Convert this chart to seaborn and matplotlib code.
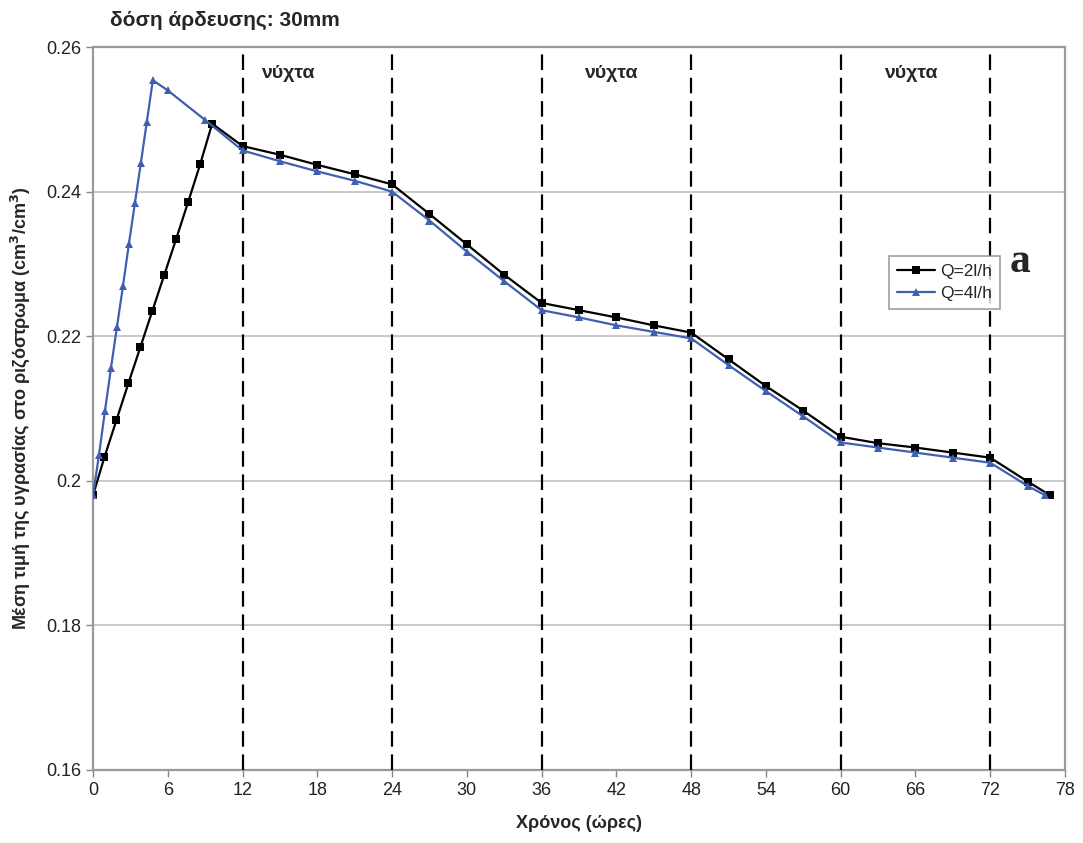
import matplotlib
matplotlib.use("Agg")
import matplotlib.pyplot as plt
import seaborn as sns
import pandas as pd

# Mean root-zone moisture for two drip emitter discharges (irrigation dose 30 mm)
t_q2 = [0, 0.92, 1.88, 2.84, 3.8, 4.76, 5.72, 6.68, 7.64, 8.6, 9.56,
        12, 15, 18, 21, 24, 27, 30, 33, 36, 39, 42, 45, 48,
        51, 54, 57, 60, 63, 66, 69, 72, 75, 76.8]
m_q2 = [0.198, 0.2033, 0.2084, 0.2135, 0.2185, 0.2235, 0.2285, 0.2335, 0.2386, 0.2438, 0.2494,
        0.2463, 0.2451, 0.2437, 0.2424, 0.2410, 0.2369, 0.2327, 0.2285, 0.2246, 0.2236, 0.2226, 0.2215, 0.2205,
        0.2168, 0.2131, 0.2097, 0.2061, 0.2052, 0.2046, 0.2039, 0.2032, 0.1999, 0.1980]

t_q4 = [0, 0.48, 0.96, 1.44, 1.92, 2.4, 2.88, 3.36, 3.84, 4.32, 4.8,
        6, 9, 12, 15, 18, 21, 24, 27, 30, 33, 36, 39, 42, 45, 48,
        51, 54, 57, 60, 63, 66, 69, 72, 75, 76.4]
m_q4 = [0.198, 0.2036, 0.2097, 0.2156, 0.2213, 0.2269, 0.2328, 0.2384, 0.2440, 0.2497, 0.2554,
        0.2540, 0.2499, 0.2457, 0.2442, 0.2428, 0.2415, 0.2400, 0.2360, 0.2317, 0.2276, 0.2236, 0.2226, 0.2215, 0.2206, 0.2197,
        0.2160, 0.2124, 0.2089, 0.2053, 0.2046, 0.2039, 0.2032, 0.2025, 0.1993, 0.1980]

series_labels = ["Q=2l/h", "Q=4l/h"]
night_bounds = [12, 24, 36, 48, 60, 72]
night_label_x = [13.5, 39.4, 63.5]
x_ticks = list(range(0, 79, 6))
y_ticks = [0.16, 0.18, 0.20, 0.22, 0.24, 0.26]
y_tick_labels = ["0.16", "0.18", "0.2", "0.22", "0.24", "0.26"]

sns.set_theme(style="white")
plt.rcParams["font.family"] = ["Liberation Sans", "DejaVu Sans"]

fig = plt.figure(figsize=(10.83, 8.43), dpi=100)
ax = fig.add_axes([0.0859, 0.0866, 0.8975, 0.8576])

df = pd.concat([
    pd.DataFrame({"t": t_q2, "m": m_q2, "series": series_labels[0]}),
    pd.DataFrame({"t": t_q4, "m": m_q4, "series": series_labels[1]}),
])

blue = "#3f5fb0"
sns.lineplot(data=df, x="t", y="m", hue="series", style="series",
             palette=["black", blue], markers=["s", "^"], dashes=False,
             markersize=6, linewidth=1.6, markeredgewidth=0,
             sort=False, estimator=None, ax=ax, zorder=4)

for xv in night_bounds:
    ax.axvline(xv, color="black", linestyle=(0, (7, 3.5)), linewidth=1.6, zorder=3)

for xv in night_label_x:
    ax.text(xv, 0.2564, "νύχτα", fontsize=14, fontweight="bold",
            ha="left", va="center", zorder=5)

ax.set_xlim(0, 78)
ax.set_ylim(0.16, 0.26)
ax.set_xticks(x_ticks)
ax.set_yticks(y_ticks)
ax.set_yticklabels(y_tick_labels)
ax.tick_params(axis="both", labelsize=13, colors="#222222", length=5,
               width=1, direction="out", bottom=True, left=True)
ax.tick_params(axis="both", color="#888888")
ax.yaxis.grid(True, color="#c0c0c0", linewidth=1.2)
ax.xaxis.grid(False)
for sp in ax.spines.values():
    sp.set_visible(True)
    sp.set_color("#9a9a9a")
    sp.set_linewidth(1.6)

ax.set_xlabel("Χρόνος (ώρες)", fontsize=13, fontweight="bold", labelpad=12)
ax.set_ylabel("Μέση τιμή της υγρασίας στο ριζόστρωμα (cm$^\\mathbf{3}$/cm$^\\mathbf{3}$)",
              fontsize=13, fontweight="bold", labelpad=10)

fig.text(110 / 1083, 1 - 20 / 843, "δόση άρδευσης: 30mm", fontsize=15,
         fontweight="bold", ha="left", va="center")

leg = ax.legend(loc="upper left", bbox_to_anchor=(0.81, 0.723), fontsize=12.5,
                frameon=True, fancybox=False, handlelength=2.2, handletextpad=0.3,
                borderpad=0.45, labelspacing=0.4)
leg.get_frame().set_edgecolor("#888888")
leg.get_frame().set_linewidth(1.2)
leg.set_title(None)

fig.text(1020 / 1083, 1 - 262 / 843, "a", fontsize=30, fontweight="bold",
         family=["Liberation Serif", "DejaVu Serif"], ha="center", va="center")

fig.savefig("out.png", dpi=100, facecolor="white")
